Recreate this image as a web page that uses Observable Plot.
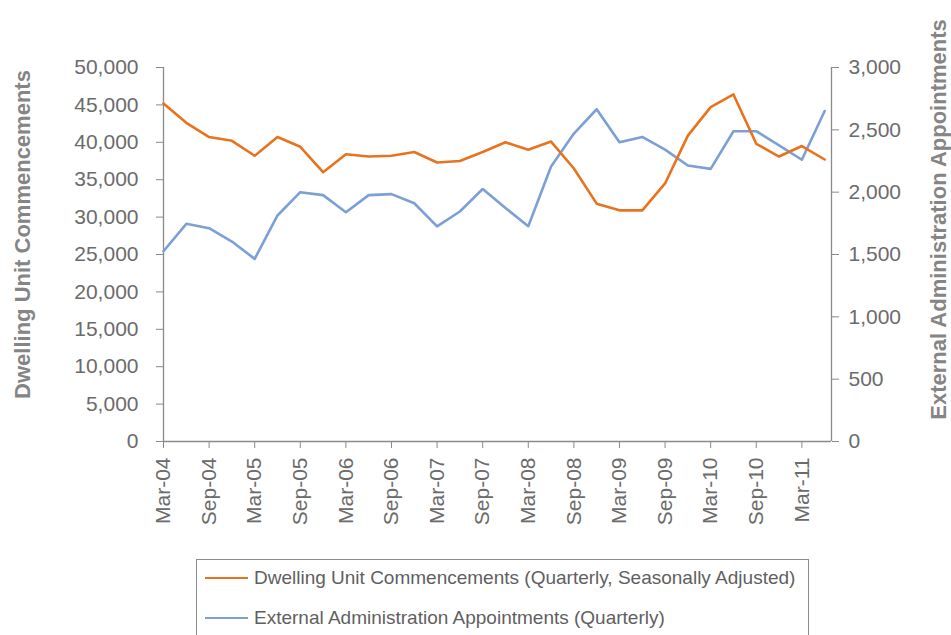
<!DOCTYPE html>
<html>
<head>
<meta charset="utf-8">
<script src="https://cdn.jsdelivr.net/npm/d3@7"></script>
<script src="https://cdn.jsdelivr.net/npm/@observablehq/plot@0.6"></script>
<style>
  html, body { margin: 0; padding: 0; background: #fff; overflow: hidden; }
  #wrap { position: relative; width: 951px; height: 635px; overflow: hidden; font-family: "Liberation Sans", Arial, sans-serif; }
  #legend { position: absolute; left: 196px; top: 559px; width: 613px; height: 100px; border: 1px solid #8c8c8c; box-sizing: border-box; background: #fff; }
  .item { position: absolute; left: 8px; display: flex; align-items: center; font-size: 19px; color: #5f5f5f; white-space: nowrap; }
  .sw { width: 43px; height: 2px; margin-right: 6px; }
</style>
</head>
<body>
<div id="wrap">
  <div id="chart"></div>
  <div id="legend"></div>
</div>
<script>
const quarters = ["Mar-04","Jun-04","Sep-04","Dec-04","Mar-05","Jun-05","Sep-05","Dec-05",
  "Mar-06","Jun-06","Sep-06","Dec-06","Mar-07","Jun-07","Sep-07","Dec-07",
  "Mar-08","Jun-08","Sep-08","Dec-08","Mar-09","Jun-09","Sep-09","Dec-09",
  "Mar-10","Jun-10","Sep-10","Dec-10","Mar-11","Jun-11"];
const dwelling = [45200, 42600, 40700, 40200, 38200, 40700, 39400, 36000,
  38400, 38100, 38200, 38700, 37300, 37500, 38700, 40000,
  39000, 40100, 36500, 31800, 30900, 30900, 34500, 40900,
  44700, 46400, 39800, 38100, 39500, 37700];
const appointments = [1526, 1746, 1711, 1604, 1465, 1813, 2000, 1976,
  1839, 1976, 1984, 1911, 1725, 1845, 2025, 1873,
  1727, 2206, 2470, 2665, 2400, 2443, 2341, 2214,
  2187, 2489, 2489, 2376, 2260, 2651];
const xTickLabels = ["Mar-04","Sep-04","Mar-05","Sep-05","Mar-06","Sep-06","Mar-07","Sep-07",
  "Mar-08","Sep-08","Mar-09","Sep-09","Mar-10","Sep-10","Mar-11"];
const leftTicks = [0, 5000, 10000, 15000, 20000, 25000, 30000, 35000, 40000, 45000, 50000];
const rightTicks = [0, 500, 1000, 1500, 2000, 2500, 3000];
const seriesNames = ["Dwelling Unit Commencements (Quarterly, Seasonally Adjusted)",
  "External Administration Appointments (Quarterly)"];
const leftTitle = "Dwelling Unit Commencements";
const rightTitle = "External Administration Appointments";

const ORANGE = "#e8731f";
const BLUE = "#7c9fd6";
const AXIS = "#8a8a8a";
const TEXT = "#6b6b6b";
const TITLE = "#858585";

const k = 50000 / 3000; // right axis -> left axis units
const xMax = 29.3;
const rows1 = dwelling.map((v, i) => ({i, v, q: quarters[i]}));
const rows2 = appointments.map((v, i) => ({i, v: v * k, q: quarters[i]}));
const xTicks = xTickLabels.map(l => quarters.indexOf(l));
const fmt = d3.format(",");

const chart = Plot.plot({
  width: 951,
  height: 635,
  marginTop: 67,
  marginBottom: 194,
  marginLeft: 163,
  marginRight: 120,
  style: {fontFamily: "'Liberation Sans', Arial, sans-serif", background: "transparent", overflow: "visible"},
  x: {domain: [0, xMax]},
  y: {domain: [0, 50000]},
  marks: [
    Plot.axisY(leftTicks, {anchor: "left", tickFormat: fmt, tickSize: 7, tickPadding: 18, fontSize: 21, stroke: AXIS, fill: TEXT, label: null}),
    Plot.axisY(rightTicks.map(d => d * k), {anchor: "right", tickFormat: d => fmt(Math.round(d / k)), tickSize: 7, tickPadding: 10, fontSize: 21, stroke: AXIS, fill: TEXT, label: null}),
    Plot.axisX(xTicks, {anchor: "bottom", tickFormat: i => quarters[i], tickRotate: -90, tickSize: 7, tickPadding: 9, fontSize: 21, stroke: AXIS, fill: TEXT, label: null}),
    Plot.ruleX([0, xMax], {stroke: AXIS, strokeWidth: 1.3}),
    Plot.ruleY([0], {stroke: AXIS, strokeWidth: 1.3}),
    Plot.lineY(rows2, {x: "i", y: "v", stroke: BLUE, strokeWidth: 2.6}),
    Plot.lineY(rows1, {x: "i", y: "v", stroke: ORANGE, strokeWidth: 2.6}),
    Plot.text([leftTitle], {frameAnchor: "left", textAnchor: "middle", dx: -141, dy: -20, rotate: -90, fontSize: 22, fontWeight: "bold", fill: TITLE}),
    Plot.text([rightTitle], {frameAnchor: "right", textAnchor: "middle", dx: 107, dy: -35, rotate: -90, fontSize: 22, fontWeight: "bold", fill: TITLE})
  ]
});
document.getElementById("chart").appendChild(chart);

const legend = d3.select("#legend");
[[seriesNames[0], ORANGE, 18], [seriesNames[1], BLUE, 58]].forEach(([name, color, y]) => {
  const it = legend.append("div").attr("class", "item").style("top", (y - 12) + "px").style("height", "24px");
  it.append("div").attr("class", "sw").style("background", color);
  it.append("span").text(name);
});
</script>
</body>
</html>
